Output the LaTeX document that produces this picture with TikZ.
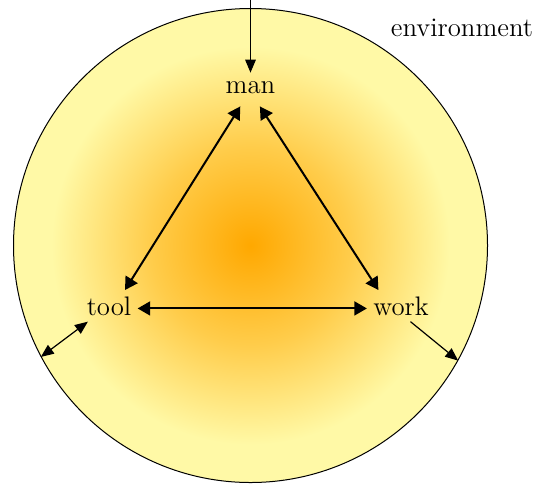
\documentclass[tikz,border=0pt]{standalone}
\usepackage{fontspec}
\usetikzlibrary{arrows.meta,calc}
\definecolor{coreorange}{RGB}{255,168,0}
\definecolor{paleyel}{RGB}{255,249,166}
\pgfdeclareradialshading{envshade}{\pgfpoint{0bp}{0bp}}{color(0bp)=(coreorange); color(10.5bp)=(coreorange!55!paleyel); color(21bp)=(paleyel); color(50bp)=(paleyel)}
\tikzset{
  lbl/.style={inner sep=3pt, anchor=base, font=\fontsize{13.4}{16}\selectfont},
  thickarr/.style={line width=1pt, {Triangle[length=6.3pt,width=7pt]}-{Triangle[length=6.3pt,width=7pt]}},
  thinarr/.style={line width=0.6pt, -{Triangle[length=6.5pt,width=5.3pt]}},
  thinboth/.style={line width=0.6pt, {Triangle[length=6.5pt,width=5.3pt]}-{Triangle[length=6.5pt,width=5.3pt]}},
  envcircle/.style={circle, draw=black, line width=0.5pt, minimum size=237pt, inner sep=0pt, shading=envshade}
}
\begin{document}
\begin{tikzpicture}[x=0.5pt,y=-0.5pt]
\useasboundingbox (0,0) rectangle (540,483);
\node[envcircle] (c) at (250.5,245.5) {};
\node[lbl, text depth=3.5pt] (man) at (250.5,93) {man};
\node[lbl] (tool) at (109,315) {tool};
\node[lbl] (work) at (401,315) {work};
\node[lbl] (env) at (462,36.7) {environment};
\coordinate (top) at (250.5,0);
\draw[thinarr, shorten >=1pt] (top) -- (man.north);
\draw[thickarr] ([xshift=-5.1pt]man.south) -- ([xshift=8pt]tool.north);
\draw[thickarr] ([xshift=4.7pt]man.south) -- ([xshift=-11.3pt]work.north);
\draw[thickarr] ([yshift=-1.3pt]tool.east) -- ([yshift=-1.3pt]work.west);
\draw[thinboth] (tool) -- (c.208.2);
\draw[thinarr] ([xshift=4.75pt]work.south) -- (c.331.8);
\end{tikzpicture}
\end{document}
